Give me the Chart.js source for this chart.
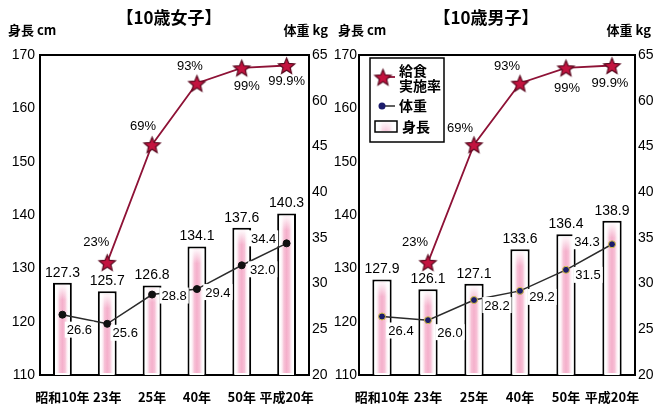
<!DOCTYPE html>
<html lang="ja">
<head>
<meta charset="utf-8">
<script src="https://cdn.jsdelivr.net/npm/chart.js@4.4.1/dist/chart.umd.min.js"></script>
<style>
  html, body { margin: 0; padding: 0; background: #fff; }
  .wrap { display: flex; width: 662px; height: 404px; }
  .panel { width: 331px; height: 404px; }
  canvas { display: block; }
</style>
</head>
<body>
<div class="wrap">
  <div class="panel"><canvas id="girlsChart" width="331" height="404"></canvas></div>
  <div class="panel"><canvas id="boysChart" width="331" height="404"></canvas></div>
</div>
<script>
// 年次
const categories = ['昭和10年', '23年', '25年', '40年', '50年', '平成20年'];
// 10歳女子
const girlsHeight = [127.3, 125.7, 126.8, 134.1, 137.6, 140.3];
const girlsWeight = [26.6, 25.6, 28.8, 29.4, 32.0, 34.4];
// 10歳男子
const boysHeight = [127.9, 126.1, 127.1, 133.6, 136.4, 138.9];
const boysWeight = [26.4, 26.0, 28.2, 29.2, 31.5, 34.3];
// 給食実施率（%）
const mealRate = [null, 23, 69, 93, 99, 99.9];
// 目盛り
const heightTicks = [110, 120, 130, 140, 150, 160, 170];
const weightTicks = [20, 25, 30, 35, 40, 45, 60, 65]; // 50・55 は省略（波線）

const numFont = '"Liberation Sans Narrow", "Liberation Sans", Arial, sans-serif';
const jpFont = '"Noto Sans CJK JP", "Noto Sans", sans-serif';

// 塗りつぶしの星マーカー
function makeStar(r, fill, stroke) {
  const s = Math.ceil(r * 2 + 4);
  const c = document.createElement('canvas');
  c.width = s; c.height = s;
  const g = c.getContext('2d');
  g.beginPath();
  for (let i = 0; i < 10; i++) {
    const rad = i % 2 ? r * 0.45 : r;
    const a = -Math.PI / 2 + i * Math.PI / 5;
    g.lineTo(s / 2 + rad * Math.cos(a), s / 2 + 1 + rad * Math.sin(a));
  }
  g.closePath();
  g.fillStyle = fill;
  g.fill();
  g.lineWidth = 1.2;
  g.strokeStyle = stroke;
  g.stroke();
  return c;
}
const starImg = makeStar(8.5, '#c3133f', '#5a0a20');

// パネルごとの配置
const panelSetup = {
  girlsChart: {
    title: '【10歳女子】', titleX: 169,
    leftW: 40, rightW: 22, leftPad: 5, rightPad: 3,
    unitL: 8, unitR: 328,
    dot: '#111', dotBorder: '#111',
    rateOff: [null, [-11, -20], [-9, -18], [-7, -17], [5, 19], [0, 16]],
    weightOff: [[17, 15], [18, 9], [22, 1], [21, 3], [21, 4], [-23, -5]],
    legend: false
  },
  boysChart: {
    title: '【10歳男子】', titleX: 155,
    leftW: 28, rightW: 27, leftPad: 2, rightPad: 3,
    unitL: 7, unitR: 320,
    dot: '#1c1c6b', dotBorder: '#d9c44a',
    rateOff: [null, [-13, -20], [-14, -16], [-13, -17], [1, 21], [-2, 18]],
    weightOff: [[19, 14], [22, 12], [23, 5], [22, 6], [22, 5], [-25, -3]],
    legend: true
  }
};

function pinkStripe(ctx, x, top, bottom, w) {
  const g = ctx.createLinearGradient(x - w / 2, 0, x + w / 2, 0);
  g.addColorStop(0, 'rgba(255,255,255,0)');
  g.addColorStop(0.3, 'rgba(244,168,198,0.7)');
  g.addColorStop(0.5, 'rgba(242,155,190,0.8)');
  g.addColorStop(0.7, 'rgba(244,168,198,0.7)');
  g.addColorStop(1, 'rgba(255,255,255,0)');
  ctx.fillStyle = g;
  ctx.fillRect(x - w / 2, top, w, bottom - top);
  // 上端をぼかす
  const v = ctx.createLinearGradient(0, top, 0, top + 14);
  v.addColorStop(0, 'rgba(255,255,255,0.9)');
  v.addColorStop(1, 'rgba(255,255,255,0)');
  ctx.fillStyle = v;
  ctx.fillRect(x - w / 2, top, w, 14);
}

const decorPlugin = {
  id: 'decor',
  beforeDatasetsDraw(chart) {
    const a = chart.chartArea, ctx = chart.ctx;
    ctx.save();
    ctx.lineWidth = 2;
    ctx.strokeStyle = '#000';
    ctx.strokeRect(a.left, a.top, a.right - a.left, a.bottom - a.top);
    ctx.restore();
  },
  afterDatasetDraw(chart, args) {
    if (args.index !== 0) return;
    const ctx = chart.ctx;
    const bottom = chart.chartArea.bottom;
    ctx.save();
    chart.getDatasetMeta(0).data.forEach(bar => {
      const w = bar.width - 5;
      pinkStripe(ctx, bar.x, bar.y + 3, Math.min(bar.base, bottom) - 2, w);
    });
    ctx.restore();
  },
  afterDatasetsDraw(chart) {
    const cfg = panelSetup[chart.canvas.id];
    const ctx = chart.ctx;
    ctx.save();
    ctx.fillStyle = '#000';

    // 身長の値
    ctx.font = '14px ' + numFont;
    ctx.textAlign = 'center';
    ctx.textBaseline = 'bottom';
    const hData = chart.data.datasets[0].data;
    chart.getDatasetMeta(0).data.forEach((bar, i) => {
      ctx.fillText(hData[i].toFixed(1), bar.x, bar.y - 3);
    });

    // 体重の値（白地）
    ctx.font = '13px ' + numFont;
    ctx.textBaseline = 'middle';
    const wData = chart.data.datasets[1].data;
    chart.getDatasetMeta(1).data.forEach((pt, i) => {
      const t = wData[i].toFixed(1);
      const [dx, dy] = cfg.weightOff[i];
      const tw = ctx.measureText(t).width;
      ctx.fillStyle = '#fff';
      ctx.fillRect(pt.x + dx - tw / 2 - 2, pt.y + dy - 8, tw + 4, 16);
      ctx.fillStyle = '#000';
      ctx.fillText(t, pt.x + dx, pt.y + dy + 1);
    });

    // 給食実施率
    chart.getDatasetMeta(2).data.forEach((pt, i) => {
      if (mealRate[i] == null) return;
      const [dx, dy] = cfg.rateOff[i];
      ctx.fillText(mealRate[i] + '%', pt.x + dx, pt.y + dy);
    });
    ctx.restore();
  },
  afterDraw(chart) {
    const cfg = panelSetup[chart.canvas.id];
    const ctx = chart.ctx;
    ctx.save();
    ctx.fillStyle = '#000';
    ctx.textBaseline = 'middle';
    ctx.font = 'bold 17px ' + jpFont;
    ctx.textAlign = 'center';
    ctx.fillText(cfg.title, cfg.titleX, 18);
    ctx.font = 'bold 13px ' + jpFont;
    ctx.textAlign = 'left';
    ctx.fillText('身長 cm', cfg.unitL, 30);
    ctx.textAlign = 'right';
    ctx.fillText('体重 kg', cfg.unitR, 30);

    if (cfg.legend) {
      ctx.fillStyle = '#fff';
      ctx.fillRect(39, 58, 74, 84);
      ctx.lineWidth = 1.5;
      ctx.strokeStyle = '#000';
      ctx.strokeRect(39, 58, 74, 84);
      // 給食実施率
      ctx.strokeStyle = '#8e1236';
      ctx.lineWidth = 1.8;
      ctx.beginPath(); ctx.moveTo(52, 77); ctx.lineTo(64, 77); ctx.stroke();
      ctx.drawImage(starImg, 52 - starImg.width / 2, 77 - starImg.height / 2);
      // 体重
      ctx.strokeStyle = '#2b2b2b';
      ctx.lineWidth = 1.5;
      ctx.beginPath(); ctx.moveTo(51, 106); ctx.lineTo(64, 106); ctx.stroke();
      ctx.fillStyle = '#1c1c6b';
      ctx.beginPath(); ctx.arc(51, 106, 3.5, 0, Math.PI * 2); ctx.fill();
      // 身長
      ctx.fillStyle = '#fff';
      ctx.fillRect(44, 121, 22, 11);
      pinkStripe(ctx, 55, 122, 131, 18);
      ctx.strokeStyle = '#000';
      ctx.lineWidth = 1.5;
      ctx.strokeRect(44, 121, 22, 11);

      ctx.fillStyle = '#000';
      ctx.font = 'bold 14px ' + jpFont;
      ctx.textAlign = 'left';
      ctx.fillText('給食', 68, 71);
      ctx.fillText('実施率', 68, 86);
      ctx.fillText('体重', 68, 106);
      ctx.fillText('身長', 71, 127);
    }
    ctx.restore();
  }
};

function buildChart(id, heights, weights) {
  const cfg = panelSetup[id];
  return new Chart(document.getElementById(id), {
    type: 'bar',
    data: {
      labels: categories,
      datasets: [
        {
          type: 'bar', label: '身長', data: heights, yAxisID: 'y',
          backgroundColor: '#fff', borderColor: '#000', borderWidth: 2,
          barPercentage: 0.42, categoryPercentage: 1, order: 3
        },
        {
          type: 'line', label: '体重', data: weights, yAxisID: 'y1',
          borderColor: '#2b2b2b', borderWidth: 1.5, tension: 0,
          pointRadius: 3.5, pointBackgroundColor: cfg.dot,
          pointBorderColor: cfg.dotBorder, pointBorderWidth: 1,
          clip: false, order: 2
        },
        {
          type: 'line', label: '給食実施率', data: mealRate, yAxisID: 'y2',
          borderColor: '#8e1236', borderWidth: 1.8, tension: 0,
          pointStyle: starImg, clip: false, order: 1
        }
      ]
    },
    options: {
      responsive: false,
      animation: false,
      layout: { padding: { top: 55, left: 0, right: 0, bottom: 0 } },
      plugins: { legend: { display: false }, tooltip: { enabled: false } },
      scales: {
        x: {
          grid: { display: false }, border: { display: false },
          ticks: {
            color: '#000', padding: 6, maxRotation: 0, autoSkip: false,
            font: { family: jpFont, size: 13, weight: 'bold' }
          },
          afterFit(s) { s.height = 29; }
        },
        y: {
          position: 'left',
          min: heightTicks[0], max: heightTicks[heightTicks.length - 1],
          grid: { display: false, drawTicks: false }, border: { display: false },
          ticks: {
            stepSize: 10, padding: cfg.leftPad, color: '#000',
            font: { family: '"Liberation Sans", Arial, sans-serif', size: 14 }
          },
          afterFit(s) { s.width = cfg.leftW; }
        },
        y1: {
          position: 'right',
          min: weightTicks[0], max: weightTicks[0] + 5 * (weightTicks.length - 1),
          grid: { display: false, drawTicks: false }, border: { display: false },
          ticks: {
            stepSize: 5, padding: cfg.rightPad, color: '#000',
            font: { family: '"Liberation Sans", Arial, sans-serif', size: 14 },
            callback: (v, i) => weightTicks[i]
          },
          afterFit(s) { s.width = cfg.rightW; }
        },
        y2: { display: false, min: -21, max: 104 }
      }
    },
    plugins: [decorPlugin]
  });
}

buildChart('girlsChart', girlsHeight, girlsWeight);
buildChart('boysChart', boysHeight, boysWeight);
</script>
</body>
</html>
